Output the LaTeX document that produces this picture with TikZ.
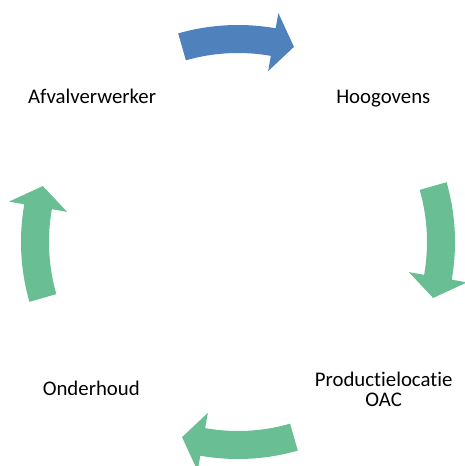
\documentclass[tikz,border=0pt]{standalone}
\usepackage{fontspec}
\setmainfont{Carlito}[Ligatures=NoCommon]
\definecolor{cycleblue}{RGB}{79,129,189}
\definecolor{cyclegreen}{RGB}{106,190,148}
\tikzset{
  cyclelabel/.style={anchor=base, align=center, inner sep=0pt,
    font=\fontsize{20.8}{20}\selectfont},
}
\begin{document}
\begin{tikzpicture}[x=1pt, y=1pt]
    \useasboundingbox (-238,-224) rectangle (227,242);
    \coordinate (centre) at (0,0);
    % curved arrows, running clockwise
    \fill[cycleblue]
        (106:217) arc[start angle=106, end angle=80, radius=217]
        -- (80:232.5) -- (74:203) -- (80:173.5) -- (80:189)
        arc[start angle=80, end angle=106, radius=189] -- cycle;
    \fill[cyclegreen]
        (16:217) arc[start angle=16, end angle=-10, radius=217]
        -- (-10:232.5) -- (-16:203) -- (-10:173.5) -- (-10:189)
        arc[start angle=-10, end angle=16, radius=189] -- cycle;
    \fill[cyclegreen]
        (-74:217) arc[start angle=-74, end angle=-100, radius=217]
        -- (-100:232.5) -- (-106:203) -- (-100:173.5) -- (-100:189)
        arc[start angle=-100, end angle=-74, radius=189] -- cycle;
    \fill[cyclegreen]
        (196:217) arc[start angle=196, end angle=170, radius=217]
        -- (170:232.5) -- (164:203) -- (170:173.5) -- (170:189)
        arc[start angle=170, end angle=196, radius=189] -- cycle;
    % labels
    \node[cyclelabel] (afval) at (-146,138.7) {Afvalverwerker};
    \node[cyclelabel] (hoogovens) at (145.3,138.7) {Hoogovens};
    \node[cyclelabel] (productie) at (145.7,-164.7) {Productielocatie\\OAC};
    \node[cyclelabel] (onderhoud) at (-146.7,-153) {Onderhoud};
\end{tikzpicture}
\end{document}
